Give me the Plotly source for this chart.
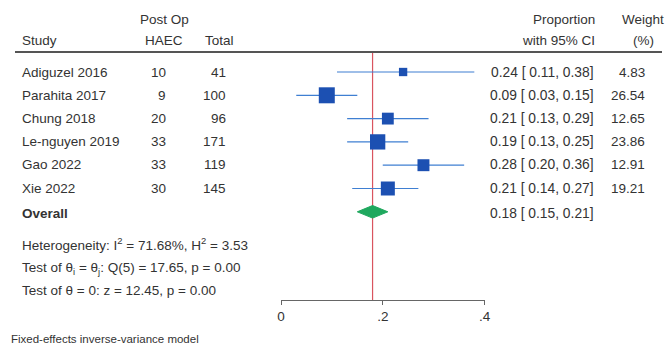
import plotly.graph_objects as go

studies = ["Adiguzel 2016", "Parahita 2017", "Chung 2018", "Le-nguyen 2019", "Gao 2022", "Xie 2022"]
haec = [10, 9, 20, 33, 33, 30]
total = [41, 100, 96, 171, 119, 145]
prop = [0.24, 0.09, 0.21, 0.19, 0.28, 0.21]
ci_lo = [0.11, 0.03, 0.13, 0.13, 0.20, 0.14]
ci_hi = [0.38, 0.15, 0.29, 0.25, 0.36, 0.27]
weight = [4.83, 26.54, 12.65, 23.86, 12.91, 19.21]
overall = {"est": 0.18, "lo": 0.15, "hi": 0.21}
stats_lines = [
    "Heterogeneity: I<sup>2</sup> = 71.68%, H<sup>2</sup> = 3.53",
    "Test of θ<sub>i</sub> = θ<sub>j</sub>: Q(5) = 17.65, p = 0.00",
    "Test of θ = 0: z = 12.45, p = 0.00",
]
tick_vals = [0, 0.2, 0.4]
tick_text = ["0", ".2", ".4"]
footnote = "Fixed-effects inverse-variance model"

W, H = 667, 349
FONT = "Liberation Sans, Arial, sans-serif"
FS = 13.5
TXT = "#333333"
BLUE = "#1c50b2"
CI_BLUE = "#3f7fd2"
GREEN = "#1fa85e"
RED = "#d9545f"

row0_px, row_step = 72, 23.3
top_px, bottom_px = 52, 300
def idx(px):
    return (px - row0_px) / row_step

x0_px, x4_px = 281, 484.5

fig = go.Figure()
rows = list(range(len(studies)))

for i in rows:
    fig.add_trace(go.Scatter(x=[ci_lo[i], ci_hi[i]], y=[i, i], mode="lines",
                             line=dict(color=CI_BLUE, width=1.2), hoverinfo="skip", showlegend=False))
fig.add_trace(go.Scatter(x=prop, y=rows, mode="markers",
                         marker=dict(symbol="square", color=BLUE, opacity=1,
                                     size=[2.6 + 2.6 * w ** 0.5 for w in weight], line=dict(width=0)),
                         showlegend=False, cliponaxis=False))
oy = len(studies)
dh = 0.27
fig.add_trace(go.Scatter(x=[overall["lo"], overall["est"], overall["hi"], overall["est"], overall["lo"]],
                         y=[oy, oy - dh, oy, oy + dh, oy], mode="lines", fill="toself",
                         fillcolor=GREEN, line=dict(color=GREEN, width=1), showlegend=False))

fig.add_shape(type="line", x0=overall["est"], x1=overall["est"], xref="x", yref="y",
              y0=idx(top_px), y1=idx(bottom_px), line=dict(color=RED, width=1.2), layer="below")
fig.add_shape(type="line", xref="paper", yref="paper", x0=15 / W, x1=662 / W,
              y0=1 - top_px / H, y1=1 - top_px / H, line=dict(color="#555555", width=1.8))

def ann(text, xpx, ypx, anchor="left", size=FS, bold=False):
    if bold:
        text = "<b>" + text + "</b>"
    fig.add_annotation(text=text, x=xpx / W, y=1 - ypx / H, xref="paper", yref="paper",
                       xanchor=anchor, yanchor="middle", showarrow=False,
                       font=dict(family=FONT, size=size, color=TXT))

ann("Study", 20, 40)
ann("Post Op", 164, 19, "center")
ann("HAEC", 164, 40, "center")
ann("Total", 203, 40)
ann("Proportion", 597, 19, "right")
ann("with 95% CI", 597, 40, "right")
ann("Weight", 643, 19, "center")
ann("(%)", 643, 40, "center")

row_px = [72, 95, 118, 141, 165, 188]
for i in rows:
    yp = row_px[i]
    ann(studies[i], 20, yp)
    ann(str(haec[i]), 168, yp, "right")
    ann(str(total[i]), 228, yp, "right")
    ann(f"{prop[i]:.2f} [ {ci_lo[i]:.2f}, {ci_hi[i]:.2f}]", 596, yp, "right", size=13.8)
    ann(f"{weight[i]:.2f}", 647, yp, "right")

ann("Overall", 20, 213, bold=True)
ann(f"{overall['est']:.2f} [ {overall['lo']:.2f}, {overall['hi']:.2f}]", 596, 213, "right", size=13.8)

for s, yp in zip(stats_lines, [244, 268, 290]):
    ann(s, 20, yp)

ann(footnote, 9, 339, size=11.5)

fig.update_layout(
    width=W, height=H, margin=dict(l=0, r=0, t=0, b=0),
    paper_bgcolor="white", plot_bgcolor="white",
    xaxis=dict(domain=[x0_px / W, x4_px / W], range=[0, 0.4], tickvals=tick_vals, ticktext=tick_text,
               showgrid=False, zeroline=False, showline=True, linecolor="#666666", linewidth=1,
               ticks="outside", ticklen=4, tickcolor="#666666", automargin=False,
               tickfont=dict(family=FONT, size=FS, color=TXT)),
    yaxis=dict(domain=[(H - bottom_px) / H, (H - top_px) / H], range=[idx(bottom_px), idx(top_px)],
               visible=False, showgrid=False, zeroline=False, automargin=False),
)

fig.write_html("out.html", config={"displayModeBar": False},
               post_script="document.body.style.margin='0';document.body.style.overflow='hidden';")
